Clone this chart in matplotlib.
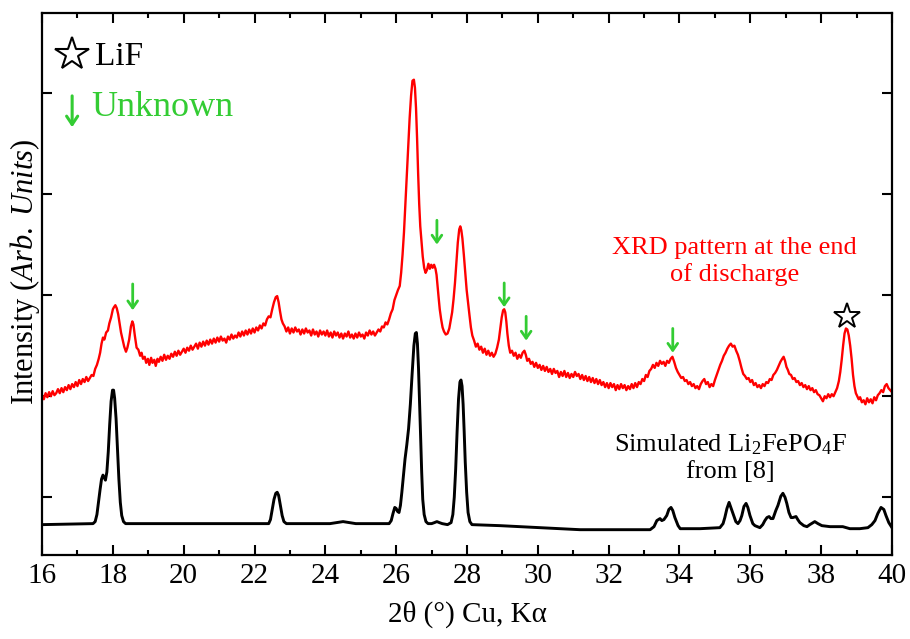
import matplotlib
matplotlib.use("Agg")
import matplotlib.pyplot as plt
from matplotlib.ticker import MultipleLocator

plt.rcParams['font.family'] = ['Liberation Serif', 'DejaVu Serif']
plt.rcParams['mathtext.fontset'] = 'custom'
plt.rcParams['mathtext.rm'] = 'Liberation Serif'
plt.rcParams['mathtext.it'] = 'Liberation Serif:italic'

xrd_points = [
    (16.00, 101), (16.05, 97), (16.10, 103), (16.15, 99), (16.20, 104), (16.25, 100), (16.30, 105),
    (16.35, 101), (16.40, 103), (16.45, 107), (16.50, 103), (16.55, 108), (16.60, 104), (16.65, 109),
    (16.70, 106), (16.75, 111), (16.80, 107), (16.85, 112), (16.90, 109), (16.95, 114), (17.00, 110),
    (17.05, 116), (17.10, 112), (17.15, 117), (17.20, 114), (17.25, 119), (17.30, 115), (17.35, 118),
    (17.40, 121), (17.45, 120), (17.50, 127), (17.55, 131), (17.60, 137), (17.64, 143), (17.68, 152),
    (17.72, 158), (17.76, 156), (17.81, 163), (17.86, 165), (17.90, 172), (17.95, 178), (18.00, 186),
    (18.03, 188), (18.07, 190), (18.11, 187), (18.15, 181), (18.19, 172), (18.23, 163), (18.28, 155),
    (18.32, 149), (18.37, 144), (18.41, 148), (18.46, 156), (18.51, 169), (18.55, 174), (18.58, 171),
    (18.62, 160), (18.67, 148), (18.72, 146), (18.77, 140), (18.81, 143), (18.85, 137), (18.90, 139),
    (18.94, 133), (18.99, 137), (19.03, 131), (19.08, 138), (19.12, 133), (19.17, 136), (19.21, 130),
    (19.26, 137), (19.30, 134), (19.35, 139), (19.40, 135), (19.45, 141), (19.50, 136), (19.55, 140),
    (19.60, 137), (19.65, 142), (19.70, 139), (19.75, 144), (19.80, 140), (19.85, 145), (19.90, 141),
    (19.95, 144), (20.00, 147), (20.05, 143), (20.10, 148), (20.15, 145), (20.20, 150), (20.25, 146),
    (20.30, 149), (20.35, 152), (20.40, 147), (20.45, 153), (20.50, 149), (20.55, 154), (20.60, 150),
    (20.65, 155), (20.70, 151), (20.75, 156), (20.80, 152), (20.85, 157), (20.90, 153), (20.95, 158),
    (21.00, 154), (21.05, 159), (21.10, 155), (21.15, 157), (21.20, 153), (21.25, 159), (21.30, 156),
    (21.35, 161), (21.40, 157), (21.45, 160), (21.50, 158), (21.55, 163), (21.60, 159), (21.65, 164),
    (21.70, 160), (21.75, 165), (21.80, 161), (21.85, 166), (21.90, 162), (21.95, 167), (22.00, 163),
    (22.05, 168), (22.10, 165), (22.15, 170), (22.20, 167), (22.25, 172), (22.30, 170), (22.35, 176),
    (22.40, 179), (22.45, 178), (22.50, 186), (22.55, 193), (22.60, 198), (22.64, 199), (22.68, 193),
    (22.72, 184), (22.76, 176), (22.80, 172), (22.85, 169), (22.90, 164), (22.95, 168), (23.00, 162),
    (23.05, 167), (23.10, 163), (23.15, 168), (23.20, 164), (23.25, 166), (23.30, 161), (23.35, 166),
    (23.40, 162), (23.45, 167), (23.50, 163), (23.55, 165), (23.60, 160), (23.65, 166), (23.70, 161),
    (23.75, 164), (23.80, 159), (23.85, 165), (23.90, 161), (23.95, 164), (24.00, 160), (24.05, 165),
    (24.10, 159), (24.15, 163), (24.20, 158), (24.25, 164), (24.30, 160), (24.35, 163), (24.40, 158),
    (24.45, 162), (24.50, 157), (24.55, 162), (24.60, 159), (24.65, 164), (24.70, 158), (24.75, 161),
    (24.80, 157), (24.85, 162), (24.90, 158), (24.95, 163), (25.00, 159), (25.05, 161), (25.10, 157),
    (25.15, 163), (25.20, 160), (25.25, 165), (25.30, 161), (25.35, 164), (25.40, 160), (25.45, 163),
    (25.50, 166), (25.55, 164), (25.60, 169), (25.65, 168), (25.70, 173), (25.75, 171), (25.80, 176),
    (25.85, 182), (25.90, 186), (25.95, 195), (26.00, 200), (26.05, 205), (26.10, 209), (26.14, 222),
    (26.18, 240), (26.22, 262), (26.26, 290), (26.30, 316), (26.34, 345), (26.38, 375), (26.42, 397),
    (26.46, 412), (26.50, 413), (26.53, 405), (26.56, 385), (26.59, 355), (26.62, 320), (26.65, 290),
    (26.68, 268), (26.71, 255), (26.75, 238), (26.79, 227), (26.83, 222), (26.87, 225), (26.91, 231),
    (26.95, 226), (26.99, 230), (27.03, 227), (27.07, 230), (27.11, 226), (27.14, 220), (27.17, 208),
    (27.20, 197), (27.23, 186), (27.27, 176), (27.31, 168), (27.35, 164), (27.40, 161), (27.45, 162),
    (27.50, 167), (27.54, 175), (27.58, 183), (27.62, 196), (27.66, 212), (27.70, 232), (27.74, 252),
    (27.78, 265), (27.81, 268), (27.84, 264), (27.87, 256), (27.91, 240), (27.95, 222), (27.99, 205),
    (28.03, 192), (28.07, 180), (28.11, 168), (28.15, 160), (28.20, 155), (28.25, 149), (28.30, 152),
    (28.35, 146), (28.40, 149), (28.45, 143), (28.50, 147), (28.55, 141), (28.60, 145), (28.65, 140),
    (28.70, 143), (28.75, 139), (28.80, 142), (28.85, 148), (28.90, 156), (28.94, 167), (28.98, 178),
    (29.02, 185), (29.05, 186), (29.08, 183), (29.11, 174), (29.14, 162), (29.18, 150), (29.22, 143),
    (29.27, 145), (29.32, 140), (29.37, 143), (29.42, 137), (29.47, 141), (29.52, 138), (29.57, 143),
    (29.62, 145), (29.66, 141), (29.70, 135), (29.75, 137), (29.80, 132), (29.85, 134), (29.90, 129),
    (29.95, 133), (30.00, 128), (30.05, 131), (30.10, 126), (30.15, 130), (30.20, 125), (30.25, 129),
    (30.30, 124), (30.35, 127), (30.40, 122), (30.45, 127), (30.50, 123), (30.55, 125), (30.60, 119),
    (30.65, 124), (30.70, 120), (30.75, 125), (30.80, 119), (30.85, 123), (30.90, 118), (30.95, 122),
    (31.00, 119), (31.05, 124), (31.10, 120), (31.15, 122), (31.20, 117), (31.25, 121), (31.30, 116),
    (31.35, 120), (31.40, 115), (31.45, 119), (31.50, 114), (31.55, 118), (31.60, 113), (31.65, 117),
    (31.70, 112), (31.75, 116), (31.80, 111), (31.85, 114), (31.90, 109), (31.95, 113), (32.00, 108),
    (32.05, 113), (32.10, 109), (32.15, 112), (32.20, 106), (32.25, 111), (32.30, 107), (32.35, 112),
    (32.40, 108), (32.45, 111), (32.50, 106), (32.55, 110), (32.60, 107), (32.65, 112), (32.70, 108),
    (32.75, 113), (32.80, 109), (32.85, 114), (32.90, 112), (32.95, 117), (33.00, 115), (33.05, 121),
    (33.10, 119), (33.15, 125), (33.20, 127), (33.25, 131), (33.30, 128), (33.35, 133), (33.40, 130),
    (33.45, 135), (33.50, 132), (33.55, 134), (33.60, 130), (33.65, 135), (33.70, 133), (33.75, 137),
    (33.80, 139), (33.85, 134), (33.90, 128), (33.95, 124), (34.00, 121), (34.05, 118), (34.10, 119),
    (34.15, 115), (34.20, 116), (34.25, 112), (34.30, 114), (34.35, 110), (34.40, 112), (34.45, 108),
    (34.50, 110), (34.55, 107), (34.60, 112), (34.65, 115), (34.70, 117), (34.75, 112), (34.80, 114),
    (34.85, 109), (34.90, 112), (34.95, 110), (35.00, 116), (35.05, 121), (35.10, 126), (35.15, 131),
    (35.20, 135), (35.25, 140), (35.30, 143), (35.35, 147), (35.40, 150), (35.45, 152), (35.50, 149),
    (35.55, 150), (35.60, 145), (35.65, 141), (35.70, 135), (35.75, 128), (35.80, 122), (35.85, 120),
    (35.90, 117), (35.95, 118), (36.00, 114), (36.05, 116), (36.10, 111), (36.15, 113), (36.20, 109),
    (36.25, 111), (36.30, 108), (36.35, 112), (36.40, 110), (36.45, 114), (36.50, 113), (36.55, 117),
    (36.60, 116), (36.65, 121), (36.70, 123), (36.75, 126), (36.80, 130), (36.85, 134), (36.90, 137),
    (36.94, 139), (36.98, 135), (37.02, 129), (37.06, 126), (37.10, 122), (37.15, 121), (37.20, 117),
    (37.25, 118), (37.30, 114), (37.35, 115), (37.40, 111), (37.45, 113), (37.50, 109), (37.55, 111),
    (37.60, 107), (37.65, 110), (37.70, 106), (37.75, 108), (37.80, 104), (37.85, 106), (37.90, 102),
    (37.95, 101), (38.00, 98), (38.05, 95), (38.10, 100), (38.15, 98), (38.20, 102), (38.25, 99),
    (38.30, 102), (38.35, 100), (38.40, 104), (38.45, 108), (38.50, 115), (38.54, 124), (38.58, 136),
    (38.62, 150), (38.66, 162), (38.70, 167), (38.74, 166), (38.78, 160), (38.82, 150), (38.86, 137),
    (38.90, 121), (38.94, 110), (38.98, 103), (39.02, 100), (39.06, 97), (39.10, 99), (39.15, 94),
    (39.20, 96), (39.25, 92), (39.30, 98), (39.35, 94), (39.40, 97), (39.45, 93), (39.50, 99),
    (39.55, 96), (39.60, 101), (39.65, 103), (39.70, 106), (39.75, 104), (39.80, 110), (39.85, 112),
    (39.90, 108), (39.95, 106), (40.00, 104),
]
xrd_2theta = [p[0] for p in xrd_points]
xrd_intensity = [p[1] for p in xrd_points]

# Simulated Li2FePO4F pattern from [8]
sim_points = [
    (16.00, -27), (17.44, -26), (17.50, -24), (17.55, -17), (17.60, -3), (17.64, 8), (17.68, 18),
    (17.72, 22), (17.76, 19), (17.79, 17), (17.83, 25), (17.87, 45), (17.91, 72), (17.95, 95),
    (17.99, 106), (18.02, 106), (18.05, 98), (18.09, 78), (18.13, 48), (18.17, 18), (18.21, -5),
    (18.25, -18), (18.30, -24), (18.36, -26), (22.40, -26), (22.45, -22), (22.50, -12), (22.55, -2),
    (22.60, 4), (22.64, 5), (22.68, 2), (22.73, -8), (22.78, -18), (22.83, -24), (22.90, -26),
    (24.13, -26), (24.50, -24), (24.86, -26), (25.80, -26), (25.86, -23), (25.91, -16), (25.96, -10),
    (26.00, -11), (26.04, -14), (26.08, -15), (26.12, -8), (26.16, 5), (26.20, 20), (26.25, 38),
    (26.30, 52), (26.35, 68), (26.40, 92), (26.45, 122), (26.50, 150), (26.54, 162), (26.57, 163),
    (26.60, 152), (26.63, 128), (26.66, 95), (26.69, 60), (26.72, 25), (26.75, -2), (26.79, -17),
    (26.84, -24), (26.90, -26), (27.00, -26), (27.08, -25), (27.15, -24), (27.22, -25), (27.30, -26),
    (27.45, -27), (27.55, -25), (27.60, -17), (27.64, 0), (27.68, 28), (27.72, 65), (27.76, 97),
    (27.80, 114), (27.83, 116), (27.86, 110), (27.89, 92), (27.92, 65), (27.95, 35), (27.99, 5),
    (28.03, -15), (28.08, -24), (28.14, -27), (28.93, -28), (30.06, -30), (31.19, -32), (32.32, -32),
    (33.17, -32), (33.28, -29), (33.36, -23), (33.45, -21), (33.50, -23), (33.56, -22), (33.64, -18),
    (33.70, -12), (33.76, -10), (33.81, -13), (33.87, -20), (33.96, -28), (34.02, -31), (34.58, -31),
    (35.14, -30), (35.23, -26), (35.28, -20), (35.34, -11), (35.40, -5), (35.45, -10), (35.51, -16),
    (35.59, -24), (35.65, -26), (35.71, -23), (35.76, -18), (35.82, -9), (35.88, -6), (35.93, -10),
    (35.99, -18), (36.07, -26), (36.13, -28), (36.27, -30), (36.35, -27), (36.41, -23), (36.47, -20),
    (36.53, -19), (36.58, -21), (36.64, -21), (36.72, -13), (36.78, -8), (36.86, 1), (36.92, 4),
    (36.98, 0), (37.03, -6), (37.09, -15), (37.15, -20), (37.20, -20), (37.29, -19), (37.34, -22),
    (37.40, -25), (37.51, -28), (37.60, -29), (37.68, -27), (37.77, -25), (37.82, -24), (37.91, -26),
    (38.02, -28), (38.25, -29), (38.61, -29), (38.81, -31), (39.09, -31), (39.32, -30), (39.43, -27),
    (39.52, -23), (39.60, -16), (39.69, -10), (39.77, -12), (39.83, -18), (39.91, -25), (40.00, -30),
]
sim_2theta = [p[0] for p in sim_points]
sim_intensity = [p[1] for p in sim_points]

# Unknown-phase markers (2theta, arrow top, arrow tip)
unknown_2theta = [18.56, 27.15, 29.05, 29.67, 33.81]
unknown_top = [211, 274, 212, 179, 167]
unknown_tip = [185, 250, 188, 155, 143]

# LiF marker
lif_2theta = [38.73]
lif_intensity = [179]

x_ticks = [16, 18, 20, 22, 24, 26, 28, 30, 32, 34, 36, 38, 40]
y_ticks = [0, 100, 200, 300, 400]

RED = '#ff0000'
GREEN = '#33cc33'

fig = plt.figure(figsize=(9.1, 6.39), dpi=100)
ax = fig.add_axes([0.0462, 0.1315, 0.934, 0.8482])

ax.plot(sim_2theta, sim_intensity, color='black', lw=2.1)
ax.plot(xrd_2theta, xrd_intensity, color=RED, lw=1.7)

for x, yt, yb in zip(unknown_2theta, unknown_top, unknown_tip):
    ax.annotate('', xy=(x, yb), xytext=(x, yt),
                arrowprops=dict(arrowstyle='->,head_width=0.35,head_length=0.5',
                                color=GREEN, lw=2.0, shrinkA=0, shrinkB=0))

ax.plot(lif_2theta, lif_intensity, marker='*', ms=19, mfc='white', mec='black',
        mew=1.4, ls='none')

# Legend-like annotations
ax.plot([16.85], [438], marker='*', ms=25, mfc='white', mec='black', mew=1.5,
        ls='none')
ax.text(17.5, 436, 'LiF', fontsize=24, va='center', ha='left', color='black')
ax.annotate('', xy=(16.85, 366), xytext=(16.85, 397),
            arrowprops=dict(arrowstyle='->,head_width=0.4,head_length=0.6',
                            color=GREEN, lw=2.2, shrinkA=0, shrinkB=0))
ax.text(17.4, 386, 'Unknown', fontsize=26, va='center', ha='left', color=GREEN)

ax.text(35.56, 233, 'XRD pattern at the end\nof discharge', fontsize=19,
        color=RED, ha='center', va='center', linespacing=1.25)
ax.text(35.45, 39, 'Simulated Li$_2$FePO$_4$F\nfrom [8]', fontsize=19,
        color='black', ha='center', va='center', linespacing=1.2)

ax.set_xlim(16, 40)
ax.set_ylim(-57, 479)
ax.set_xticks(x_ticks)
ax.xaxis.set_minor_locator(MultipleLocator(1))
ax.set_yticks(y_ticks)
ax.set_yticklabels([])
ax.tick_params(axis='both', which='major', direction='in', length=7, width=1.5,
               top=True, right=True, labelsize=21)
ax.tick_params(axis='x', which='minor', direction='in', length=3.5, width=1.5, top=True)
ax.tick_params(axis='x', pad=6)
for s in ax.spines.values():
    s.set_linewidth(1.6)

ax.set_xlabel('2θ (°) Cu, Kα', fontsize=21, labelpad=8)
ax.set_ylabel('Intensity $\\mathit{(Arb.\\ Units)}$', fontsize=22)
ax.yaxis.set_label_coords(-0.02, 0.523)
ax.yaxis.label.set_va('center')

fig.savefig('out.png', dpi=100)
